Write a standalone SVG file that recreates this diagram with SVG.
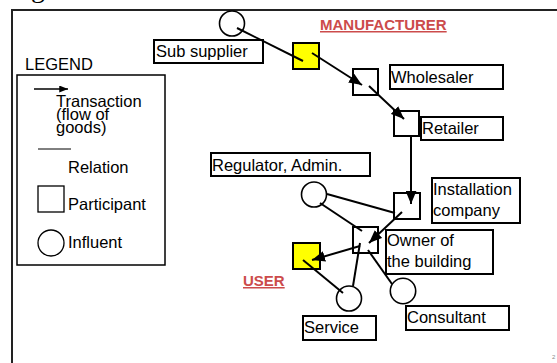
<svg xmlns="http://www.w3.org/2000/svg" width="557" height="363" viewBox="0 0 557 363">
  <style>
    text { font-family: "Liberation Sans", Arial, sans-serif; font-size: 16.5px; fill: #000; }
    .role { font-weight: bold; font-size: 15px; fill: #cc4b4b; text-decoration: underline; }
    .label { fill: #fff; stroke: #000; stroke-width: 2; }
    .part { fill: #fff; stroke: #000; stroke-width: 2; }
    .buyer { fill: #ffff00; stroke: #000; stroke-width: 2; }
    .infl { fill: #fff; stroke: #000; stroke-width: 1.6; }
    .flow { stroke: #000; stroke-width: 2; fill: none; marker-end: url(#head); }
    .rel { stroke: #000; stroke-width: 2; fill: none; }
  </style>
  <defs>
    <marker id="head" viewBox="0 0 12 10" refX="12" refY="5" markerWidth="13" markerHeight="11" markerUnits="userSpaceOnUse" orient="auto">
      <path d="M0,0 L12,5 L0,10 z" fill="#000"/>
    </marker>
    <marker id="headSmall" viewBox="0 0 10 8" refX="10" refY="4" markerWidth="9" markerHeight="7" markerUnits="userSpaceOnUse" orient="auto">
      <path d="M0,0 L10,4 L0,8 z" fill="#000"/>
    </marker>
  </defs>

  <rect width="557" height="363" fill="#fff"/>

  <!-- clipped title descender -->
  <text x="31" y="-3" style="font-family:'Liberation Serif','Times New Roman',serif;font-size:28px">g</text>

  <!-- outer frame -->
  <path d="M12,363 L12,10 L557,10" fill="none" stroke="#222" stroke-width="2"/>

  <!-- legend -->
  <g id="legend">
    <text x="25" y="70">LEGEND</text>
    <rect x="17" y="75" width="148" height="190" fill="#fff" stroke="#000" stroke-width="1.5"/>
    <line x1="34" y1="89" x2="68" y2="89" stroke="#000" stroke-width="1.3" marker-end="url(#headSmall)"/>
    <text x="56" y="107">Transaction</text>
    <text x="56" y="120">(flow of</text>
    <text x="56" y="133">goods)</text>
    <line x1="38" y1="149" x2="71" y2="149" stroke="#000" stroke-width="1"/>
    <text x="68" y="173">Relation</text>
    <rect x="38" y="186" width="26" height="26" fill="#fff" stroke="#000" stroke-width="1.3"/>
    <text x="68" y="210">Participant</text>
    <circle cx="51" cy="243" r="13" fill="#fff" stroke="#000" stroke-width="1.3"/>
    <text x="68" y="248">Influent</text>
  </g>

  <!-- role titles -->
  <text class="role" x="320" y="30">MANUFACTURER</text>
  <text class="role" x="243" y="286">USER</text>

  <!-- nodes -->
  <g id="sub-supplier">
    <circle class="infl" cx="232" cy="23.5" r="12.5"/>
    <rect class="label" x="154" y="40" width="109" height="23"/>
    <text x="156" y="57">Sub supplier</text>
  </g>
  <g id="manufacturer">
    <rect class="buyer" x="293" y="43" width="26" height="26"/>
  </g>
  <g id="wholesaler">
    <rect class="part" x="353" y="69" width="25" height="26"/>
    <rect class="label" x="390" y="65" width="113" height="24"/>
    <text x="391" y="83">Wholesaler</text>
  </g>
  <g id="retailer">
    <rect class="part" x="394" y="111" width="25" height="25"/>
    <rect class="label" x="421" y="117" width="82" height="23"/>
    <text x="422" y="134">Retailer</text>
  </g>
  <g id="regulator">
    <circle class="infl" cx="314" cy="194.5" r="12.5"/>
    <rect class="label" x="211" y="153" width="159" height="23"/>
    <text x="212" y="171">Regulator, Admin.</text>
  </g>
  <g id="installation-company">
    <rect class="part" x="394" y="193" width="26" height="26"/>
    <rect class="label" x="432" y="178" width="88" height="45"/>
    <text x="433" y="195">Installation</text>
    <text x="433" y="216">company</text>
  </g>
  <g id="owner">
    <rect class="part" x="353" y="227" width="25" height="26"/>
    <rect class="label" x="386" y="230" width="107" height="44"/>
    <text x="387" y="246">Owner of</text>
    <text x="387" y="267">the building</text>
  </g>
  <g id="user">
    <rect class="buyer" x="293" y="243" width="27" height="26"/>
  </g>
  <g id="service">
    <circle class="infl" cx="349" cy="298.5" r="12.5"/>
    <rect class="label" x="303" y="316" width="73" height="24"/>
    <text x="304" y="333">Service</text>
  </g>
  <g id="consultant">
    <circle class="infl" cx="403" cy="291" r="12.7"/>
    <rect class="label" x="406" y="306" width="103" height="24"/>
    <text x="407" y="323">Consultant</text>
  </g>

  <!-- connectors -->
  <g id="connectors">
    <line class="rel" x1="237" y1="28" x2="303" y2="61"/>
    <line class="flow" x1="312" y1="53" x2="362" y2="85"/>
    <line class="flow" x1="369" y1="86" x2="404" y2="119"/>
    <line class="flow" x1="411" y1="136" x2="411" y2="204"/>
    <line class="rel" x1="327" y1="194" x2="395" y2="213"/>
    <line class="rel" x1="320" y1="203" x2="362" y2="231"/>
    <line class="flow" x1="402" y1="212" x2="369" y2="243"/>
    <line class="flow" x1="360" y1="246" x2="312" y2="260"/>
    <line class="rel" x1="303" y1="260" x2="343" y2="293"/>
    <line class="rel" x1="360" y1="243" x2="353" y2="286"/>
    <line class="rel" x1="368" y1="250" x2="392" y2="284"/>
  </g>

  <!-- page number -->
  <text x="552" y="359" style="font-size:6px;fill:#888">2</text>
</svg>
